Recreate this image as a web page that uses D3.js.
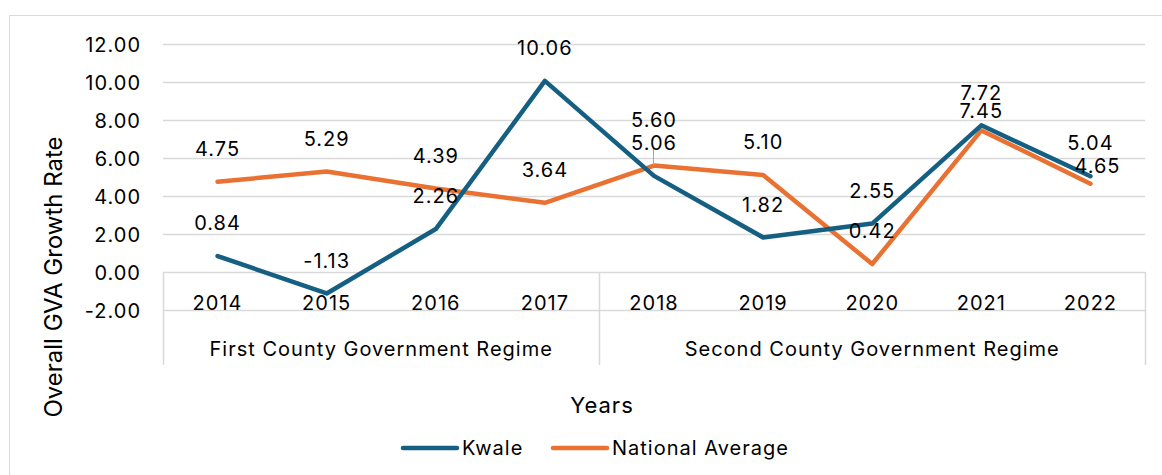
<!DOCTYPE html>
<html>
<head>
<meta charset="utf-8">
<script src="https://cdn.jsdelivr.net/npm/d3@7"></script>
<style>
  body { margin: 0; background: #fff; }
  svg text { font-family: Inter, "Liberation Sans", Arial, sans-serif; fill: #000; letter-spacing: 1px; }
</style>
</head>
<body>
<div id="chart"></div>
<script>
var years = ["2014", "2015", "2016", "2017", "2018", "2019", "2020", "2021", "2022"];
var kwale = [0.84, -1.13, 2.26, 10.06, 5.06, 1.82, 2.55, 7.72, 5.04];
var national = [4.75, 5.29, 4.39, 3.64, 5.60, 5.10, 0.42, 7.45, 4.65];
var regimes = ["First County Government Regime", "Second County Government Regime"];
var regimeYears = [["2014", "2017"], ["2018", "2022"]];
var yTicks = [-2, 0, 2, 4, 6, 8, 10, 12];

var width = 1162, height = 475;
var plotLeft = 163, plotRight = 1145, plotTop = 44, plotBottom = 310;

// excel style numbers, plain hyphen for minus
var fmt = function(d) { return d3.format(".2f")(d).replace("\u2212", "-"); };

var svg = d3.select("#chart").append("svg")
    .attr("width", width)
    .attr("height", height);

// chart frame (runs off the picture on right and bottom)
svg.append("rect")
    .attr("x", 9.5).attr("y", 15.5)
    .attr("width", 1170).attr("height", 480)
    .style("fill", "none")
    .style("stroke", "#d9d9d9");

var x = d3.scaleBand().domain(years).range([plotLeft, plotRight]);
var y = d3.scaleLinear().domain([-2, 12]).range([plotBottom, plotTop]);
var cx = function(d) { return x(d) + x.bandwidth() / 2; };

// gridlines
svg.append("g").selectAll("line")
    .data(yTicks)
    .join("line")
    .attr("x1", plotLeft).attr("x2", plotRight)
    .attr("y1", function(d) { return Math.round(y(d)) + 0.5; })
    .attr("y2", function(d) { return Math.round(y(d)) + 0.5; })
    .style("stroke", "#d9d9d9")
    .style("stroke-width", "1.5px");

// y labels
var yAxis = d3.axisLeft(y).tickValues(yTicks).tickFormat(fmt).tickSize(0).tickPadding(0);
var gy = svg.append("g")
    .attr("transform", "translate(141,0)")
    .call(yAxis);
gy.select(".domain").remove();
gy.attr("font-family", null).attr("font-size", null);
gy.selectAll("text")
    .attr("dy", "0.36em")
    .style("font-size", "20px");

// category separators
var sepY0 = Math.round(y(0)), sepY1 = 365;
var seps = [plotLeft, x(regimeYears[1][0]), plotRight];
svg.append("g").selectAll("line")
    .data(seps)
    .join("line")
    .attr("x1", function(d) { return Math.round(d) + 0.5; })
    .attr("x2", function(d) { return Math.round(d) + 0.5; })
    .attr("y1", sepY0).attr("y2", sepY1)
    .style("stroke", "#d9d9d9")
    .style("stroke-width", "1.5px");

// year labels
svg.append("g").selectAll("text")
    .data(years)
    .join("text")
    .attr("x", cx)
    .attr("y", 310)
    .attr("text-anchor", "middle")
    .style("font-size", "20px")
    .text(function(d) { return d; });

// regime labels
svg.append("g").selectAll("text")
    .data(regimes)
    .join("text")
    .attr("x", function(d, i) {
        var a = x(regimeYears[i][0]), b = x(regimeYears[i][1]) + x.bandwidth();
        return (a + b) / 2;
    })
    .attr("y", 356)
    .attr("text-anchor", "middle")
    .style("font-size", "20px")
    .text(function(d) { return d; });

// axis titles
svg.append("text")
    .attr("transform", "translate(62,277) rotate(-90)")
    .attr("text-anchor", "middle")
    .style("font-size", "24px")
    .style("letter-spacing", "0px")
    .text("Overall GVA Growth Rate");

svg.append("text")
    .attr("x", 602).attr("y", 413)
    .attr("text-anchor", "middle")
    .style("font-size", "22px")
    .text("Years");

// lines
var series = [
    { name: "Kwale", values: kwale, color: "#156082" },
    { name: "National Average", values: national, color: "#E97132" }
];

var line = d3.line()
    .x(function(d, i) { return cx(years[i]); })
    .y(function(d) { return y(d); });

svg.append("g").selectAll("path")
    .data(series.slice().reverse())
    .join("path")
    .attr("d", function(s) { return line(s.values); })
    .style("fill", "none")
    .style("stroke", function(s) { return s.color; })
    .style("stroke-width", "4.5px")
    .style("stroke-linejoin", "round")
    .style("stroke-linecap", "round");

// data labels, a few nudged by hand like in the original
var nudge = {
    "National Average-2018": [0, -13],
    "National Average-2021": [0, 13],
    "National Average-2022": [7, 15]
};

// leader line for the moved 5.60 label
svg.append("line")
    .attr("x1", cx("2018") - 0.5).attr("x2", cx("2018") - 0.5)
    .attr("y1", 148).attr("y2", 165)
    .style("stroke", "#a6a6a6")
    .style("stroke-width", "1px");

series.forEach(function(s) {
    svg.append("g").selectAll("text")
        .data(s.values)
        .join("text")
        .attr("x", function(d, i) {
            var n = nudge[s.name + "-" + years[i]] || [0, 0];
            return cx(years[i]) + n[0];
        })
        .attr("y", function(d, i) {
            var n = nudge[s.name + "-" + years[i]] || [0, 0];
            return y(d) - 33 + n[1];
        })
        .attr("dy", "0.36em")
        .attr("text-anchor", "middle")
        .style("font-size", "20px")
        .text(fmt);
});

// legend
var legend = svg.append("g").selectAll("g")
    .data(series)
    .join("g")
    .attr("transform", function(d, i) { return "translate(" + [403, 553][i] + ",448)"; });

legend.append("line")
    .attr("x1", 0).attr("x2", 54)
    .style("stroke", function(d) { return d.color; })
    .style("stroke-width", "4.5px")
    .style("stroke-linecap", "round");

legend.append("text")
    .attr("x", 59)
    .attr("dy", "0.36em")
    .style("font-size", "20px")
    .text(function(d) { return d.name; });
</script>
</body>
</html>
